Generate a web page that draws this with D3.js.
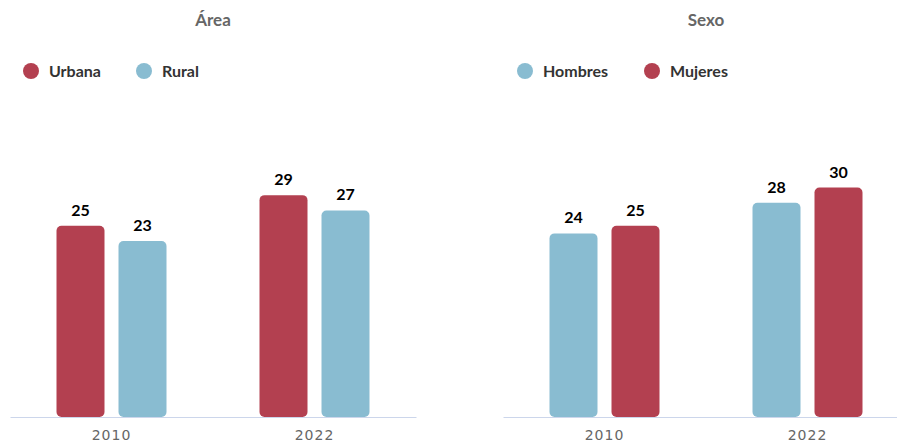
<html>
<style>
body { margin: 0; background: #fff; }
text { font-family: "Lato", sans-serif; }
</style>
<svg width="897" height="448"></svg>
<script src="https://d3js.org/d3.v7.min.js"></script>
<script>

var years = ["2010", "2022"];

var areaSeries = ["Urbana", "Rural"],
    areaValues = [[25, 29], [23, 27]],
    areaColors = ["#b34050", "#89bcd1"];

var sexoSeries = ["Hombres", "Mujeres"],
    sexoValues = [[24, 28], [25, 30]],
    sexoColors = ["#89bcd1", "#b34050"];

var svg = d3.select("svg");

function drawPanel(left, title, series, values, colors, legendX) {
  var width = 406, top = 111, bottom = 417;
  var g = svg.append("g").attr("transform", "translate(" + left + ",0)");

  var x = d3.scaleBand().domain(years).range([0, width]);
  var y = d3.scaleLinear().domain([0, 40]).range([bottom, top]);
  var barW = 48, gap = 14;

  g.append("text")
    .attr("x", width / 2).attr("y", 26)
    .attr("text-anchor", "middle")
    .attr("fill", "#666").attr("font-size", 17).attr("font-weight", "bold")
    .text(title);

  // legend
  var lg = svg.append("g");
  series.forEach(function(s, i) {
    var lx = legendX[i];
    lg.append("circle").attr("cx", lx).attr("cy", 71).attr("r", 8).attr("fill", colors[i]);
    lg.append("text").attr("x", lx + 18).attr("y", 77)
      .attr("fill", "#333").attr("font-size", 16).attr("font-weight", "bold")
      .text(s);
  });

  series.forEach(function(s, i) {
    var grp = g.append("g");
    years.forEach(function(yr, j) {
      var cx = x(yr) + x.bandwidth() / 2;
      var bx = cx - gap / 2 - barW + i * (barW + gap);
      var v = values[i][j];
      grp.append("rect")
        .attr("x", bx).attr("y", y(v))
        .attr("width", barW).attr("height", y(0) - y(v))
        .attr("rx", 5).attr("ry", 5)
        .attr("fill", colors[i]);
      grp.append("text")
        .attr("x", bx + barW / 2).attr("y", y(v) - 10)
        .attr("text-anchor", "middle")
        .attr("fill", "#000").attr("font-size", 16).attr("font-weight", "bold")
        .text(v);
    });
  });

  var axis = g.append("g")
    .attr("transform", "translate(0," + bottom + ")")
    .call(d3.axisBottom(x).tickSize(0).tickPadding(13));
  axis.select(".domain").attr("stroke", "#ccd6eb");
  axis.selectAll("text")
    .attr("fill", "#666").attr("font-size", 14)
    .style("letter-spacing", "1px")
    .style("font-family", "'DejaVu Sans', sans-serif");
}

drawPanel(10, "Área", areaSeries, areaValues, areaColors, [31, 144]);
drawPanel(503, "Sexo", sexoSeries, sexoValues, sexoColors, [525, 652]);

</script>
</html>
